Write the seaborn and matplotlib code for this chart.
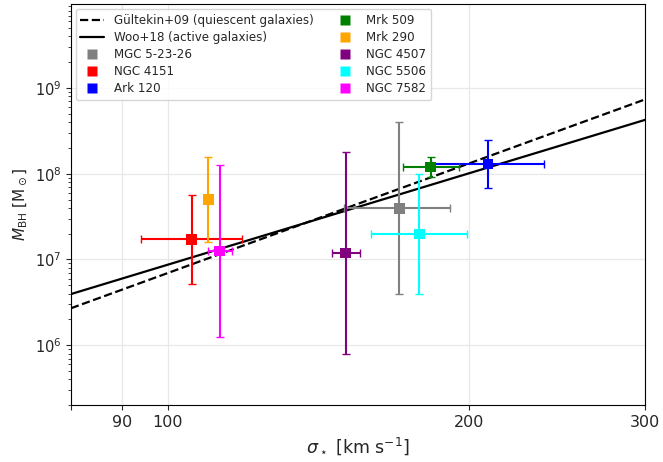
import numpy as np
import pandas as pd
import matplotlib
matplotlib.use("Agg")
import matplotlib.pyplot as plt
from matplotlib.ticker import FixedLocator, NullLocator, FixedFormatter
import seaborn as sns

# galaxies (sigma in km/s, M_BH in M_sun)
names = ['MGC 5-23-26', 'NGC 4151', 'Ark 120', 'Mrk 509', 'Mrk 290',
         'NGC 4507', 'NGC 5506', 'NGC 7582']
colors = ['grey', 'red', 'blue', 'green', 'orange', 'purple', 'cyan', 'magenta']
sigma = [170.3, 105.6, 208.9, 183.2, 109.8, 150.6, 178.4, 112.7]
sigma_lo = [150.1, 93.9, 183.4, 171.7, 109.8, 145.8, 159.7, 109.8]
sigma_hi = [191.5, 118.7, 237.5, 195.5, 109.8, 155.7, 199.3, 115.8]
mbh = [3.95e7, 1.72e7, 1.30e8, 1.20e8, 5.03e7, 1.19e7, 1.98e7, 1.26e7]
mbh_lo = [3.95e6, 5.2e6, 6.78e7, 9.25e7, 1.61e7, 7.9e5, 3.95e6, 1.25e6]
mbh_hi = [4.0e8, 5.61e7, 2.48e8, 1.56e8, 1.58e8, 1.8e8, 1.0e8, 1.26e8]

# scaling relations (end points of the straight lines in log-log)
sigma_line = [80, 300]
gultekin = [2.7e6, 7.36e8]
woo = [3.95e6, 4.25e8]

df = pd.DataFrame({'name': names, 'sigma': sigma, 'mbh': mbh})

sns.set_style("ticks")
plt.rcParams['font.family'] = ['DejaVu Sans']

fig, ax = plt.subplots(figsize=(6.63, 4.62), dpi=100)
fig.subplots_adjust(left=0.107, right=0.973, top=0.991, bottom=0.123)

ax.set_xscale('log')
ax.set_yscale('log')

sns.lineplot(x=sigma_line, y=gultekin, ax=ax, color='black', lw=1.6,
             linestyle='--', label='Gültekin+09 (quiescent galaxies)')
sns.lineplot(x=sigma_line, y=woo, ax=ax, color='black', lw=1.6,
             label='Woo+18 (active galaxies)')

for i in range(len(names)):
    xerr = [[sigma[i] - sigma_lo[i]], [sigma_hi[i] - sigma[i]]]
    yerr = [[mbh[i] - mbh_lo[i]], [mbh_hi[i] - mbh[i]]]
    if sigma_lo[i] == sigma_hi[i]:
        xerr = None
    ax.errorbar(sigma[i], mbh[i], xerr=xerr, yerr=yerr, fmt='none',
                ecolor=colors[i], elinewidth=1.5, capsize=3, zorder=3)

sns.scatterplot(data=df, x='sigma', y='mbh', hue='name', palette=colors,
                hue_order=names, marker='s', s=60, edgecolor='none',
                ax=ax, zorder=4)

ax.set_xlim(80, 300)
ax.set_ylim(2e5, 9.5e9)

ax.xaxis.set_major_locator(FixedLocator([80, 90, 100, 200, 300]))
ax.xaxis.set_major_formatter(FixedFormatter(['', '90', '100', '200', '300']))
ax.xaxis.set_minor_locator(NullLocator())
ax.tick_params(axis='x', labelsize=11.5)
ax.tick_params(axis='y', labelsize=10.5)

ax.grid(True, which='major', color='#e8e8e8', lw=0.9)
ax.set_axisbelow(True)
for sp in ax.spines.values():
    sp.set_color('black')

ax.set_xlabel(r'$\sigma_\star$ [km s$^{-1}$]', fontsize=12.5)
ax.set_ylabel(r'$M_{\rm BH}$ [M$_\odot$]', fontsize=11)

ax.legend(loc='upper left', ncol=2, fontsize=8.6, columnspacing=1.6,
          markerscale=0.85, labelspacing=0.35, borderaxespad=0.4)

plt.savefig('out.png', dpi=100)
